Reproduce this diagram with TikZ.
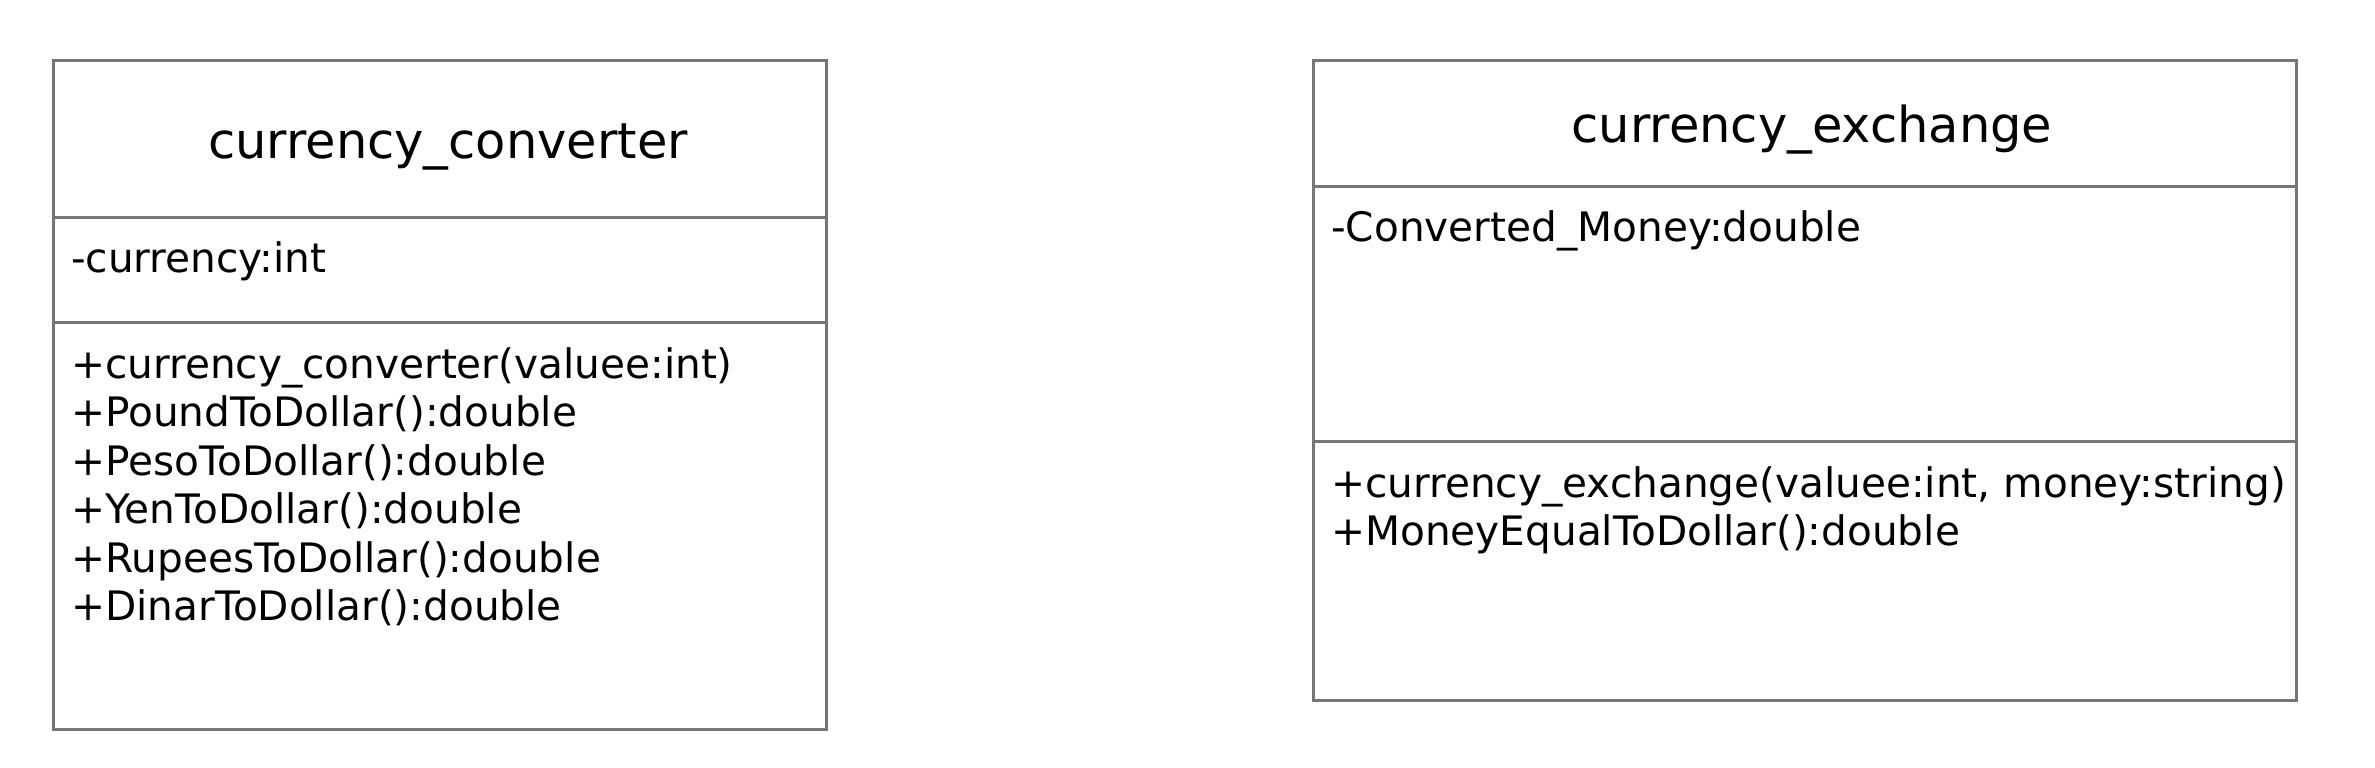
\documentclass[tikz,border=0pt]{standalone}
\usepackage{fontspec}
\setmainfont{DejaVu Sans}
\definecolor{umlgray}{RGB}{118,118,118}
\tikzset{
  classbox/.style={draw=umlgray, line width=3pt, rectangle, inner sep=0pt, outer sep=0pt},
  divider/.style={draw=umlgray, line width=3pt},
  classtitle/.style={anchor=base, inner sep=0pt, font=\fontsize{49.5}{58}\selectfont},
  member/.style={anchor=base west, inner sep=0pt, font=\fontsize{40.6}{48}\selectfont}
}
\begin{document}
\begin{tikzpicture}[x=1pt,y=-1pt]
\useasboundingbox (0,0) rectangle (2375,768);
% left class
\node[classbox, minimum width=773pt, minimum height=668pt] (conv) at (439.5,395) {};
\draw[divider] (conv.west |- 0,217) -- (conv.east |- 0,217);
\draw[divider] (conv.west |- 0,322) -- (conv.east |- 0,322);
\node[classtitle] (convT) at (448,158) {currency\_converter};
\node[member] (convA) at (71,272) {-currency:int};
\node[member] (convM1) at (71,378) {+currency\_converter(valuee:int)};
\node[member] (convM2) at (71,426.5) {+PoundToDollar():double};
\node[member] (convM3) at (71,475) {+PesoToDollar():double};
\node[member] (convM4) at (71,523.5) {+YenToDollar():double};
\node[member] (convM5) at (71,572) {+RupeesToDollar():double};
\node[member] (convM6) at (71,620.5) {+DinarToDollar():double};
% right class
\node[classbox, minimum width=983pt, minimum height=639pt] (exch) at (1804.5,380.5) {};
\draw[divider] (exch.west |- 0,186) -- (exch.east |- 0,186);
\draw[divider] (exch.west |- 0,441) -- (exch.east |- 0,441);
\node[classtitle] (exchT) at (1812,142) {currency\_exchange};
\node[member] (exchA) at (1331,241) {-Converted\_Money:double};
\node[member] (exchM1) at (1331,497) {+currency\_exchange(valuee:int, money:string)};
\node[member] (exchM2) at (1331,545.5) {+MoneyEqualToDollar():double};
\end{tikzpicture}
\end{document}
